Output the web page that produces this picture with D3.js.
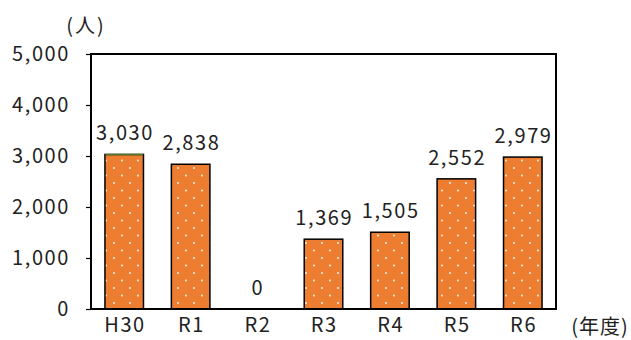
<!DOCTYPE html>
<html>
<head>
<meta charset="utf-8">
<script src="https://cdn.jsdelivr.net/npm/d3@7"></script>
<style>
  html, body { margin: 0; padding: 0; background: #fff; }
  svg { display: block; font-family: "Noto Sans CJK JP", "Noto Sans", sans-serif; }
</style>
</head>
<body>
<svg id="chart" width="631" height="340"></svg>
<script>
// Annual number of people by fiscal year
const years = ["H30", "R1", "R2", "R3", "R4", "R5", "R6"];
const people = [3030, 2838, 0, 1369, 1505, 2552, 2979];
const yTicks = [0, 1000, 2000, 3000, 4000, 5000];
const yUnit = "(人)";
const xUnit = "(年度)";

const svg = d3.select("#chart");
const margin = { left: 91, right: 75, top: 54, bottom: 31 };
const W = 631, H = 340;
const FS = 20;
const LS = 1.6;   // letter spacing for the wide, open label style

const x = d3.scaleBand()
  .domain(years)
  .range([margin.left, W - margin.right])
  .paddingInner(0.42)
  .paddingOuter(0.21);

const y = d3.scaleLinear()
  .domain([0, 5000])
  .range([H - margin.bottom, margin.top]);

// white dotted fill for bars
const defs = svg.append("defs");
const pat = defs.append("pattern")
  .attr("id", "dots")
  .attr("patternUnits", "userSpaceOnUse")
  .attr("width", 16).attr("height", 15);
pat.append("rect").attr("width", 16).attr("height", 15).attr("fill", "#ED7D31");
[[2, 3], [10, 10.5]].forEach(([cx, cy]) => {
  pat.append("circle").attr("cx", cx).attr("cy", cy).attr("r", 1.1).attr("fill", "#fde9dc");
});

// bars
svg.append("g").selectAll("rect")
  .data(years.map((k, i) => ({ k, v: people[i] })))
  .join("rect")
  .attr("x", d => x(d.k))
  .attr("y", d => y(d.v))
  .attr("width", x.bandwidth())
  .attr("height", d => y(0) - y(d.v))
  .attr("fill", "url(#dots)")
  .attr("stroke", "#000")
  .attr("stroke-width", d => d.v > 0 ? 1.5 : 0);

// green top edge on the first bar
svg.append("line")
  .attr("x1", x(years[0]) + 0.5).attr("x2", x(years[0]) + x.bandwidth() - 0.5)
  .attr("y1", y(people[0])).attr("y2", y(people[0]))
  .attr("stroke", "#4e7a2a").attr("stroke-width", 1.6);

// value labels
svg.append("g").selectAll("text")
  .data(years.map((k, i) => ({ k, v: people[i] })))
  .join("text")
  .attr("x", d => x(d.k) + x.bandwidth() / 2 + LS / 2)
  .attr("y", d => y(d.v) - 14)
  .attr("text-anchor", "middle")
  .attr("font-size", FS)
  .attr("letter-spacing", LS)
  .attr("fill", "#222")
  .text(d => d3.format(",")(d.v));

// frame
svg.append("rect")
  .attr("x", margin.left).attr("y", margin.top)
  .attr("width", W - margin.left - margin.right)
  .attr("height", H - margin.top - margin.bottom)
  .attr("fill", "none").attr("stroke", "#000").attr("stroke-width", 2);

// y axis
const yAxis = svg.append("g")
  .attr("transform", `translate(${margin.left},0)`)
  .call(d3.axisLeft(y).tickValues(yTicks).tickFormat(d3.format(",")).tickSize(5).tickPadding(16));
yAxis.select(".domain").remove();
yAxis.selectAll(".tick line").attr("stroke", "#000").attr("stroke-width", 1.2);
yAxis.selectAll(".tick text").attr("font-size", FS).attr("fill", "#222")
  .attr("letter-spacing", LS)
  .attr("font-family", "\"Noto Sans CJK JP\", sans-serif");

// x axis labels
const xAxis = svg.append("g")
  .attr("transform", `translate(0,${H - margin.bottom})`)
  .call(d3.axisBottom(x).tickSize(0).tickPadding(9));
xAxis.select(".domain").remove();
xAxis.selectAll(".tick text").attr("font-size", FS).attr("fill", "#222")
  .attr("letter-spacing", LS).attr("dx", LS / 2)
  .attr("font-family", "\"Noto Sans CJK JP\", sans-serif");

// unit labels
svg.append("text").attr("x", 86).attr("y", 33).attr("text-anchor", "middle")
  .attr("font-size", FS).attr("letter-spacing", 2).attr("fill", "#222").text(yUnit);
svg.append("text").attr("x", 600).attr("y", 334).attr("text-anchor", "middle")
  .attr("font-size", FS).attr("letter-spacing", 1).attr("fill", "#222").text(xUnit);
</script>
</body>
</html>
